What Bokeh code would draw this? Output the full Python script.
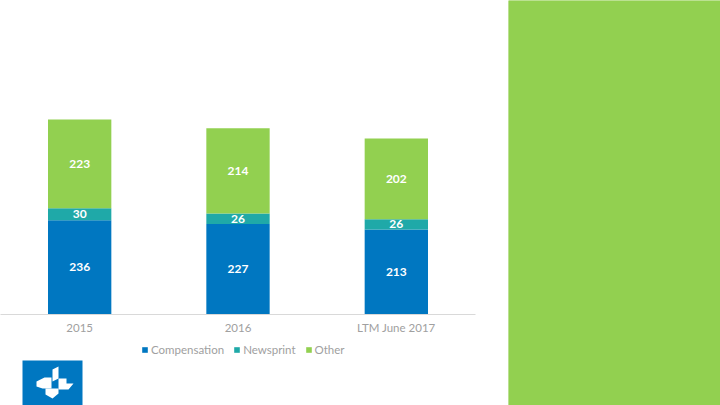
from bokeh.plotting import figure
from bokeh.models import FactorRange, Range1d, Legend, LegendItem, ColumnDataSource
from bokeh.layouts import row, column
from bokeh.embed import file_html
from bokeh.resources import INLINE
from bokeh.core.properties import value

# ---- data ----
categories = ["2015", "2016", "LTM June 2017"]
series_names = ["Compensation", "Newsprint", "Other"]
compensation = [236, 227, 213]
newsprint = [30, 26, 26]
other = [223, 214, 202]
colors = ["#0077C1", "#1FA9A8", "#92D050"]

data = {"cat": categories, "Compensation": compensation,
        "Newsprint": newsprint, "Other": other}
src = ColumnDataSource(data)

p = figure(x_range=FactorRange(*categories), y_range=Range1d(0, 787),
           frame_width=475, frame_height=314, output_backend="svg", toolbar_location=None,
           y_axis_location=None, min_border_left=0, min_border_right=33,
           min_border_top=0, min_border_bottom=26)
p.outline_line_color = None
p.xgrid.visible = False
p.ygrid.visible = False
p.background_fill_color = "white"
p.border_fill_color = "white"

rs = p.vbar_stack(series_names, x="cat", width=0.4, color=colors,
                  line_color=None, source=src)

# labels in the middle of each segment
lx, ly, lt = [], [], []
for i, c in enumerate(categories):
    base = 0
    for vals in (compensation, newsprint, other):
        v = vals[i]
        lx.append(c)
        ly.append(base + v / 2)
        lt.append(str(v))
        base += v
p.text(x=lx, y=ly, text=lt, text_align="center", text_baseline="middle",
       text_color="white", text_font=value("Lato"), text_font_style="bold",
       text_font_size="12px")

ax = p.xaxis[0]
ax.axis_line_color = "#D9D9D9"
ax.axis_line_width = 1
ax.major_tick_line_color = None
ax.major_tick_out = 0
ax.major_tick_in = 0
ax.minor_tick_line_color = None
ax.major_label_standoff = 6
ax.major_label_text_font = "Lato"
ax.major_label_text_font_size = "11.5px"
ax.major_label_text_color = "#A0A0A0"

# bottom strip: legend + logo
bottom = figure(frame_width=508, frame_height=65, x_range=Range1d(0, 508), y_range=Range1d(405, 340),
                output_backend="svg", toolbar_location=None, x_axis_location=None,
                y_axis_location=None, min_border=0)
bottom.outline_line_color = None
bottom.xgrid.visible = False
bottom.ygrid.visible = False
bottom.quad(left=[22], right=[82], top=[360], bottom=[405], color="#0077C1", line_color=None)
bottom.patches(
    xs=[[52, 58, 58, 52], [36, 44, 51, 51, 42, 36], [58, 66, 66, 73, 68, 58], [45, 58, 58, 52, 45]],
    ys=[[369, 366, 378, 381], [381, 377, 377, 388, 388, 386], [378, 378, 383, 383, 389, 389],
        [388, 388, 393, 398, 394]],
    color="white", line_color=None)

# legend swatches (same series, same colours; glyphs kept outside the visible range)
swatches = [bottom.quad(left=[-20], right=[-10], top=[350], bottom=[360], color=c, line_color=None)
            for c in colors]
legend = Legend(items=[LegendItem(label=n, renderers=[r]) for n, r in zip(series_names, swatches)],
                orientation="horizontal", location=(141, 49))
legend.label_text_font = "Lato"
legend.label_text_font_size = "11.5px"
legend.label_text_color = "#A0A0A0"
legend.glyph_width = 7
legend.glyph_height = 7
legend.label_height = 14
legend.label_standoff = 3
legend.spacing = 9
legend.padding = 0
legend.margin = 0
legend.border_line_color = None
legend.background_fill_alpha = 0
bottom.add_layout(legend)

# green panel
green = figure(width=212, height=405, x_range=Range1d(0, 1), y_range=Range1d(0, 1),
               output_backend="svg", toolbar_location=None, x_axis_location=None,
               y_axis_location=None, min_border=0)
green.outline_line_color = None
green.xgrid.visible = False
green.ygrid.visible = False
green.background_fill_color = "#92D050"
green.border_fill_color = "#92D050"
green.quad(left=[0], right=[1], top=[1], bottom=[0], color="#92D050", line_color=None)

layout = row(column(p, bottom, spacing=0), green, spacing=0)

open("out.html", "w").write(file_html(layout, INLINE))
